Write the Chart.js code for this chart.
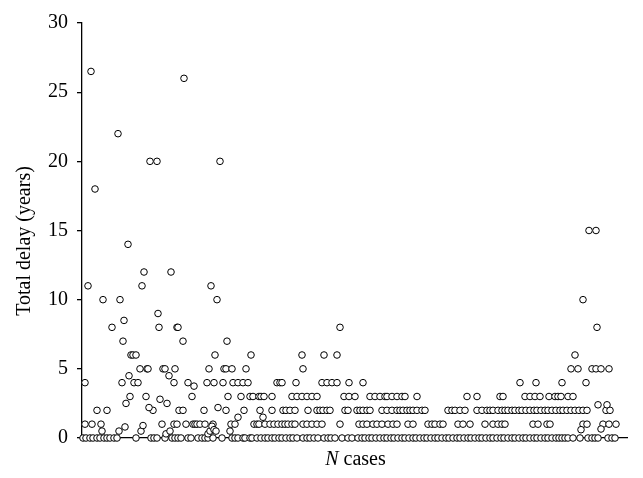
<!DOCTYPE html>
<html>
<head>
<meta charset="utf-8">
<script src="https://cdn.jsdelivr.net/npm/chart.js@4.4.1/dist/chart.umd.min.js"></script>
<style>
html,body{margin:0;padding:0;background:#fff;}
canvas{display:block;}
</style>
</head>
<body>
<canvas id="c" width="643" height="478"></canvas>
<script>
// Case numbers grouped by total delay (years)
const zeroDelayCases = [1,4,8,11,15,18,22,25,28,32,35,54,69,72,75,83,90,93,96,99,106,109,116,120,123,126,131,140,150,153,156,161,163,168,170,175,179,183,186,190,193,197,200,204,208,211,215,221,225,228,232,236,242,246,249,253,260,266,270,276,280,283,287,290,294,298,302,305,309,312,316,320,323,327,331,334,338,342,345,349,353,356,360,364,367,371,375,378,382,386,389,393,397,400,404,408,411,415,419,422,426,430,433,437,441,444,448,452,455,459,463,466,470,474,477,480,483,486,491,498,506,510,513,516,526,530,533];
const oneYearCases = [3,10,19,80,92,95,104,111,113,115,118,123,131,149,153,172,175,177,183,188,192,196,200,203,206,210,213,221,225,230,235,240,258,277,281,285,291,295,300,306,311,315,326,331,346,350,353,358,361,376,381,388,403,411,416,420,423,451,456,465,468,501,505,521,527,534];
const twoYearCases = [15,25,71,97,101,122,144,162,178,190,201,204,208,213,226,235,238,241,245,248,263,266,275,278,281,285,288,300,305,310,315,318,321,325,328,331,335,340,343,366,370,373,378,383,395,400,405,408,411,416,420,423,426,430,433,437,440,444,448,452,455,459,463,466,470,474,478,481,485,489,493,497,501,505,524,528];
const threeYearCases = [48,64,110,146,159,168,171,177,179,182,190,210,215,220,225,230,235,262,267,273,288,293,298,303,305,310,315,320,323,335,385,395,418,421,443,448,453,458,467,473,476,479,486,491];
const fourYearCases = [3,40,52,56,92,106,125,132,141,151,156,161,166,195,198,200,214,240,245,250,255,267,281,438,454,480,504];
const fiveYearCases = [58,65,66,81,83,93,127,142,144,150,164,221,489,496,510,514,519,527];
const sixYearCases = [49,51,54,133,169,220,242,255,493];
// Remaining cases with other delays
const otherCases  = [9,13,36,68,75,102,138,6,21,38,30,42,41,46,60,62,76,77,89,95,96,101,129,135,145,258,507,514,501,515,47,87,112,78,44,85,516,525,67,136,156,181,20,37,43,59,61,84,88,126,128,130,132,134,148,499,519];
const otherDelays = [26.5,18,22,20,20,26,20,11,10,10,8,8.5,7,14,11,12,9,8,12,8,8,7,11,10,7,8,15,15,10,8,4.5,4.5,3.75,2.8,2.5,2.5,2.4,2.4,2.2,2.2,1.5,1.5,0.5,0.5,0.8,0.5,0.9,0.3,0.5,0.3,0.5,0.85,0.6,0.5,0.5,0.6,0.65];

const yTickValues = [0,5,10,15,20,25,30];
const yTitle = 'Total delay (years)';
const xTitleItalic = 'N';
const xTitleRest = ' cases';

const points = [];
const addBand = (arr, v) => arr.forEach(c => points.push({x: c, y: v}));
addBand(zeroDelayCases, 0);
addBand(oneYearCases, 1);
addBand(twoYearCases, 2);
addBand(threeYearCases, 3);
addBand(fourYearCases, 4);
addBand(fiveYearCases, 5);
addBand(sixYearCases, 6);
otherCases.forEach((c, i) => points.push({x: c, y: otherDelays[i]}));

const titlePlugin = {
  id: 'titles',
  afterDraw(chart) {
    const g = chart.ctx;
    g.save();
    g.fillStyle = '#000';
    g.font = "20px 'Liberation Serif'";
    g.textAlign = 'center';
    g.textBaseline = 'alphabetic';
    g.translate(30, 241);
    g.rotate(-Math.PI / 2);
    g.fillText(yTitle, 0, 0);
    g.restore();

    g.save();
    g.fillStyle = '#000';
    g.textBaseline = 'alphabetic';
    g.textAlign = 'left';
    const fi = "italic 20px 'Liberation Serif'";
    const fr = "20px 'Liberation Serif'";
    g.font = fi; const w1 = g.measureText(xTitleItalic).width;
    g.font = fr; const w2 = g.measureText(xTitleRest).width;
    const cx = (chart.chartArea.left + chart.chartArea.right) / 2 + 1;
    const x0 = cx - (w1 + w2) / 2;
    g.font = fi; g.fillText(xTitleItalic, x0, 465);
    g.font = fr; g.fillText(xTitleRest, x0 + w1, 465);
    g.restore();
  }
};

new Chart(document.getElementById('c'), {
  type: 'scatter',
  data: {
    datasets: [{
      data: points,
      pointRadius: 3.3,
      pointHoverRadius: 3.3,
      pointBorderWidth: 1,
      pointBorderColor: '#000',
      pointBackgroundColor: '#fff',
      clip: false
    }]
  },
  options: {
    responsive: false,
    animation: false,
    events: [],
    layout: { padding: { top: 23, right: 16, left: 0, bottom: 0 } },
    plugins: { legend: { display: false }, tooltip: { enabled: false } },
    scales: {
      x: {
        type: 'linear', min: 0, max: 545,
        ticks: { display: false },
        grid: { display: false, drawTicks: false },
        border: { display: true, color: '#000', width: 1.3 },
        afterFit(s) { s.height = 40; }
      },
      y: {
        min: 0, max: 30,
        afterBuildTicks(s) { s.ticks = yTickValues.map(v => ({ value: v })); },
        ticks: { color: '#000', font: { family: 'Liberation Serif', size: 20 }, padding: 9 },
        grid: { drawOnChartArea: false, drawTicks: true, tickLength: 5, color: '#000', lineWidth: 1.3 },
        border: { display: true, color: '#000', width: 1.3 },
        afterFit(s) { s.width = 82; }
      }
    }
  },
  plugins: [titlePlugin]
});
</script>
</body>
</html>
